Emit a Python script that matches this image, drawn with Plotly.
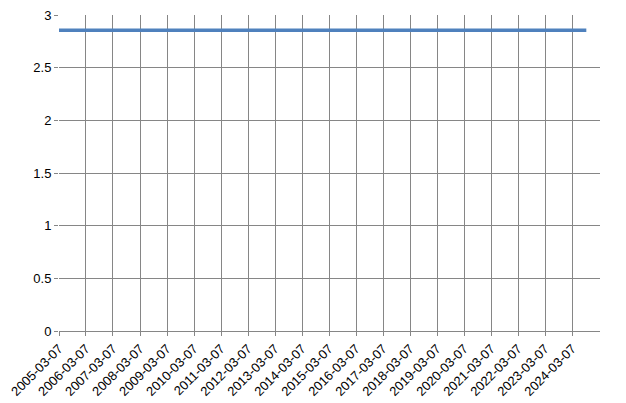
import plotly.graph_objects as go

# yearly observation dates and the (flat) series value
dates = ["2005-03-07", "2006-03-07", "2007-03-07", "2008-03-07", "2009-03-07",
         "2010-03-07", "2011-03-07", "2012-03-07", "2013-03-07", "2014-03-07",
         "2015-03-07", "2016-03-07", "2017-03-07", "2018-03-07", "2019-03-07",
         "2020-03-07", "2021-03-07", "2022-03-07", "2023-03-07", "2024-03-07",
         "2024-09-14"]
values = [2.855] * len(dates)

tick_dates = dates[:20]
tick_labels = tick_dates
y_ticks = [0, 0.5, 1, 1.5, 2, 2.5, 3]
y_labels = ["0", "0.5", "1", "1.5", "2", "2.5", "3"]

fig = go.Figure()
fig.add_trace(go.Scatter(
    x=dates, y=values, mode="lines",
    line=dict(color="#4F81BD", width=3.5),
    showlegend=False, hoverinfo="x+y"
))

grid = "#868686"
# page body adds an 8px offset, so the figure is a bit smaller than the window
fig.update_layout(
    width=618, height=395,
    margin=dict(l=51, r=26, t=7, b=72),
    plot_bgcolor="white", paper_bgcolor="white",
    font=dict(family="Liberation Sans, Arial, sans-serif", size=13, color="#000000"),
    xaxis=dict(
        type="date",
        range=["2005-03-07", "2025-03-18"],
        tickvals=tick_dates, ticktext=tick_labels,
        tickangle=-45,
        automargin=False, ticklabeloverflow="allow",
        showgrid=True, gridcolor=grid, gridwidth=1,
        showline=True, linecolor=grid, linewidth=1,
        ticks="outside", ticklen=4, tickcolor=grid,
        zeroline=False,
    ),
    yaxis=dict(
        range=[0, 3.001],
        tickvals=y_ticks, ticktext=y_labels,
        automargin=False, ticklabeloverflow="allow",
        showgrid=True, gridcolor=grid, gridwidth=1,
        showline=False,
        ticks="outside", ticklen=4, tickcolor=grid,
        zeroline=False,
    ),
)

fig.write_html("out.html")
